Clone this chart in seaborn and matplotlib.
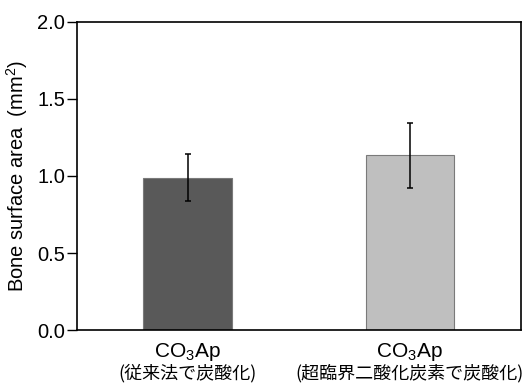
import matplotlib
matplotlib.use("Agg")
import matplotlib.pyplot as plt
import seaborn as sns
import pandas as pd
import numpy as np

categories = ["CO$_3$Ap", "CO$_3$Ap "]
subtitles = ["(従来法で炭酸化)", "(超臨界二酸化炭素で炭酸化)"]
values = [0.99, 1.135]
errors = [0.153, 0.21]
colors = ["#595959", "#bfbfbf"]
yticks = [0.0, 0.5, 1.0, 1.5, 2.0]

sns.set_theme(style="ticks")
plt.rcParams["font.family"] = ["Liberation Sans", "Noto Sans CJK JP", "DejaVu Sans"]
plt.rcParams["mathtext.fontset"] = "custom"
plt.rcParams["mathtext.rm"] = "Liberation Sans"
plt.rcParams["mathtext.it"] = "Liberation Sans:italic"
plt.rcParams["text.color"] = "black"
plt.rcParams["axes.labelcolor"] = "black"
plt.rcParams["xtick.color"] = "black"
plt.rcParams["ytick.color"] = "black"

df = pd.DataFrame({"cat": categories, "val": values})

fig = plt.figure(figsize=(5.30, 3.83), dpi=100)
ax = fig.add_axes([0.145, 0.138, 0.838, 0.805])
sns.barplot(data=df, x="cat", y="val", hue="cat", palette=colors, legend=False,
            width=0.4, edgecolor="#7a7a7a", linewidth=0.8, ax=ax, errorbar=None)
ax.errorbar(x=np.arange(len(values)), y=values, yerr=errors, fmt="none",
            ecolor="black", elinewidth=1.1, capsize=2.5, capthick=1.1)

ax.set_xlim(-0.5, 1.5)
ax.set_ylim(0, 2.0)
ax.set_yticks(yticks)
ax.set_yticklabels([f"{t:.1f}" for t in yticks], fontsize=14.5)
ax.set_ylabel("Bone surface area  (mm$^2$)", fontsize=14.5, labelpad=5)
ax.set_xlabel("")
ax.tick_params(axis="y", direction="out", length=7, width=1, pad=1.5)
ax.tick_params(axis="x", length=0, pad=8, labelsize=15)
for s in ax.spines.values():
    s.set_visible(True)
    s.set_linewidth(1.2)
    s.set_color("black")

for i, sub in enumerate(subtitles):
    ax.text(i, -0.14, sub, transform=ax.get_xaxis_transform(), ha="center", va="center",
            fontsize=13, family=["Noto Sans CJK JP", "Liberation Sans"])

fig.savefig("out.png", dpi=100)
